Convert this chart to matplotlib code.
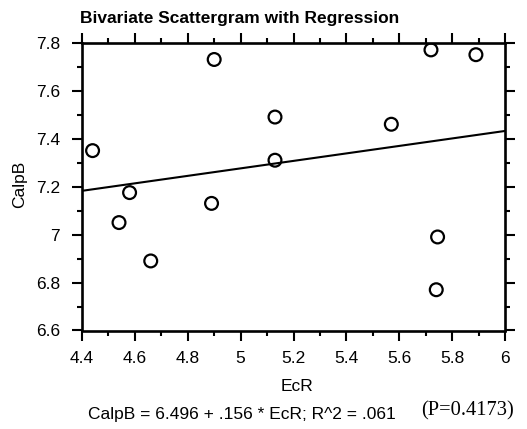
import matplotlib
matplotlib.use("Agg")
import matplotlib.pyplot as plt
import numpy as np
from matplotlib.ticker import MultipleLocator, FuncFormatter

ecr = [4.44, 4.58, 4.54, 4.66, 4.89, 4.90, 5.13, 5.13, 5.57, 5.72, 5.745, 5.74, 5.89]
calpb = [7.35, 7.175, 7.05, 6.89, 7.13, 7.73, 7.31, 7.49, 7.46, 7.77, 6.99, 6.77, 7.75]
intercept = 6.496
slope = 0.156
x_ticks = [4.4, 4.6, 4.8, 5.0, 5.2, 5.4, 5.6, 5.8, 6.0]
y_ticks = [6.6, 6.8, 7.0, 7.2, 7.4, 7.6, 7.8]

plt.rcParams['font.family'] = ['Liberation Sans', 'DejaVu Sans']

W, H = 527, 429
L, R, T, B = 82, 505, 42.7, 330.5
fig = plt.figure(figsize=(W/100, H/100), dpi=100)
ax = fig.add_axes([L/W, 1-B/H, (R-L)/W, (B-T)/H])

ax.scatter(ecr, calpb, s=85, facecolors='none', edgecolors='black', linewidths=1.6, zorder=3)
xl = np.array([4.4, 6.0])
ax.plot(xl, intercept + slope*xl, color='black', lw=1.5)

ax.set_xlim(4.4, 6.0)
ax.set_ylim(6.6, 7.8)
ax.set_xticks(x_ticks)
ax.set_yticks(y_ticks)
fmt = lambda v, p: ('%g' % round(v, 2))
ax.xaxis.set_major_formatter(FuncFormatter(fmt))
ax.yaxis.set_major_formatter(FuncFormatter(fmt))
ax.xaxis.set_minor_locator(MultipleLocator(0.1))
ax.yaxis.set_minor_locator(MultipleLocator(0.1))
ax.tick_params(which='both', direction='out', top=True, right=True, width=1.5, labelsize=12.5)
ax.tick_params(axis='x', pad=8)
ax.tick_params(axis='y', pad=9)
ax.tick_params(which='major', length=7)
ax.tick_params(which='minor', length=3.6)
ax.tick_params(axis='x', labeltop=False)
ax.tick_params(axis='y', labelright=False)
for s in ax.spines.values():
    s.set_linewidth(1.9)

ax.set_xlabel('EcR', fontsize=12.5, va='center')
ax.xaxis.set_label_coords((297-L)/(R-L), (B-386.5)/(B-T))
ax.set_ylabel('CalpB', fontsize=12.5, va='center')
ax.yaxis.set_label_coords((20-L)/(R-L), (B-184)/(B-T))

fig.text(80/W, 1-18.5/H, 'Bivariate Scattergram with Regression', fontsize=12.5,
         fontweight='bold', ha='left', va='center')
fig.text(241.5/W, 1-414/H, 'CalpB = 6.496 + .156 * EcR; R^2 = .061', fontsize=12.5,
         ha='center', va='center')
fig.text(468/W, 1-411/H, '(P=0.4173)', fontsize=14.8, family=['Liberation Serif', 'DejaVu Serif'],
         ha='center', va='center')

fig.savefig('out.png', dpi=100)
